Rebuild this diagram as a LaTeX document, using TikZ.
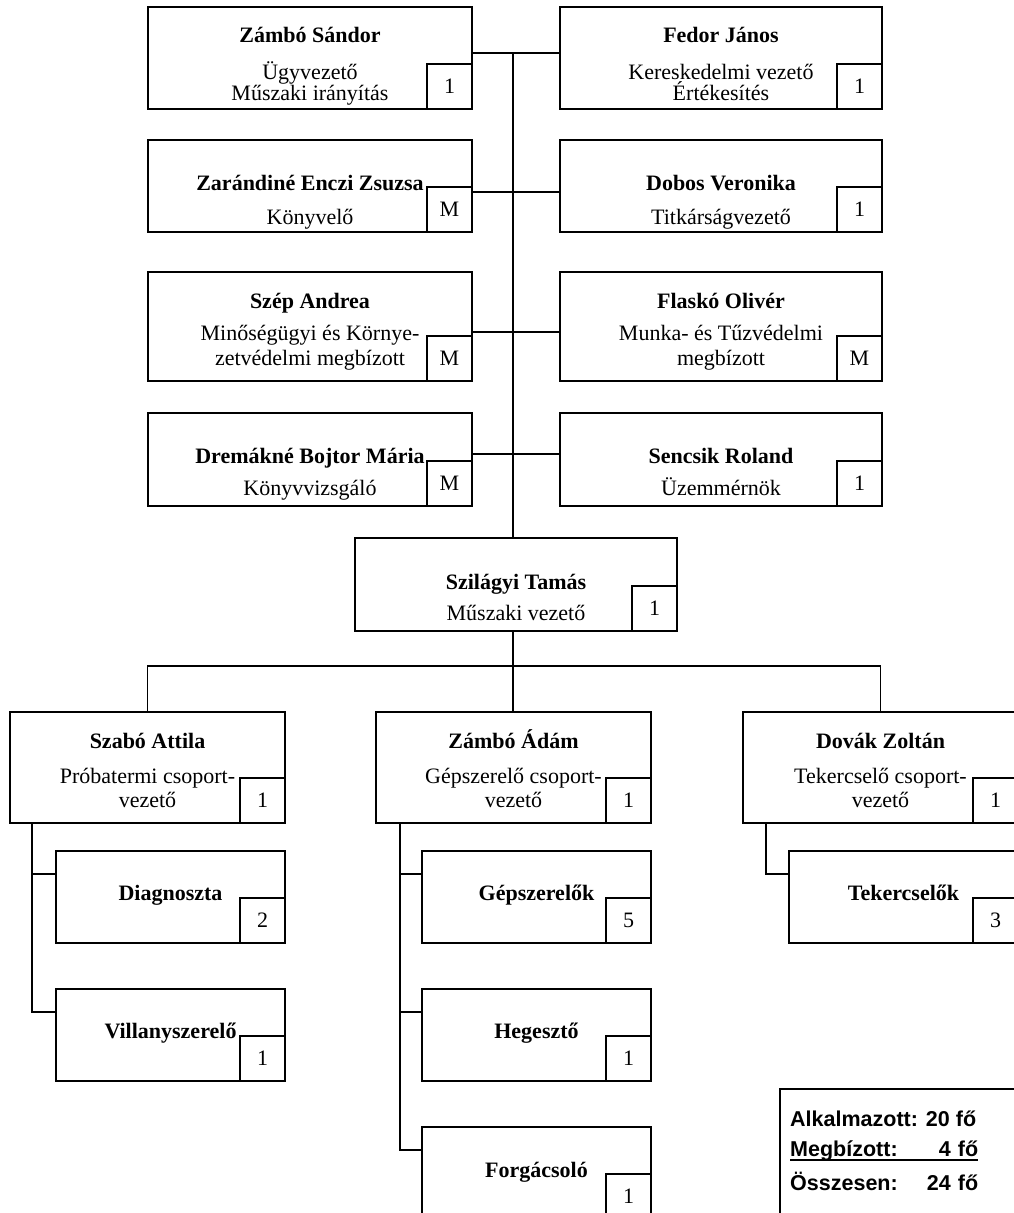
\documentclass[tikz,border=0pt]{standalone}
\usepackage{fontspec}
\setmainfont{Liberation Serif}
\newfontfamily\sumfont{Liberation Sans}
\usetikzlibrary{calc}
\newcommand\fs{\fontsize{22}{23}\selectfont}
\tikzset{
 box/.style={draw, line width=1.6pt, inner sep=0pt, outer sep=0pt},
 numbox/.style={draw, line width=1.6pt, inner sep=0pt, outer sep=0pt, minimum width=45pt, minimum height=45pt, anchor=south east, font=\fs},
 nm/.style={font=\fs\bfseries, inner sep=0pt, anchor=base},
 role/.style={font=\fs, inner sep=0pt, anchor=base, align=center},
 link/.style={line width=1.6pt},
 sumfnt/.style={font=\sumfont\bfseries\fontsize{21.5}{23}\selectfont, inner sep=0pt, anchor=base west},
 sumtxt/.style={sumfnt, text width=188pt, align=left},
}
\newcommand\obox[5]{\node[box, minimum width={#4-#2}, minimum height={#5-#3}] (#1) at ({(#2+#4)/2},{(#3+#5)/2}) {};}
\begin{document}
\begin{tikzpicture}[x=1pt,y=-1pt]
\useasboundingbox (0,0) rectangle (1014,1213);
\clip (0,0) rectangle (1014,1213);

% ---- row 1 (multi-line role nodes are placed by the baseline of their last line)
\obox{zs}{148}{7}{472}{109}
\node[nm] (zs-name) at (310,42) {Zámbó Sándor};
\node[role, font=\fontsize{22}{21}\selectfont] (zs-role) at (310,100) {Ügyvezető\\Műszaki irányítás};
\node[numbox] (zs-num) at (zs.south east) {1};

\obox{fj}{560}{7}{882}{109}
\node[nm] (fj-name) at (721,42) {Fedor János};
\node[role, font=\fontsize{22}{21}\selectfont] (fj-role) at (721,100) {Kereskedelmi vezető\\Értékesítés};
\node[numbox] (fj-num) at (fj.south east) {1};

% ---- row 2
\obox{zez}{148}{140}{472}{232}
\node[nm] (zez-name) at (310,190) {Zarándiné Enczi Zsuzsa};
\node[role] (zez-role) at (310,224) {Könyvelő};
\node[numbox] (zez-num) at (zez.south east) {M};

\obox{dv}{560}{140}{882}{232}
\node[nm] (dv-name) at (721,190) {Dobos Veronika};
\node[role] (dv-role) at (721,224) {Titkárságvezető};
\node[numbox] (dv-num) at (dv.south east) {1};

% ---- row 3
\obox{sa}{148}{272}{472}{381}
\node[nm] (sa-name) at (310,308) {Szép Andrea};
\node[role, font=\fontsize{22}{25}\selectfont] (sa-role) at (310,365) {Minőségügyi és Környe-\\zetvédelmi megbízott};
\node[numbox] (sa-num) at (sa.south east) {M};

\obox{fo}{560}{272}{882}{381}
\node[nm] (fo-name) at (721,308) {Flaskó Olivér};
\node[role, font=\fontsize{22}{25}\selectfont] (fo-role) at (721,365) {Munka- és Tűzvédelmi\\megbízott};
\node[numbox] (fo-num) at (fo.south east) {M};

% ---- row 4
\obox{dbm}{148}{413}{472}{506}
\node[nm] (dbm-name) at (310,463) {Dremákné Bojtor Mária};
\node[role] (dbm-role) at (310,495) {Könyvvizsgáló};
\node[numbox] (dbm-num) at (dbm.south east) {M};

\obox{sr}{560}{413}{882}{506}
\node[nm] (sr-name) at (721,463) {Sencsik Roland};
\node[role] (sr-role) at (721,495) {Üzemmérnök};
\node[numbox] (sr-num) at (sr.south east) {1};

% ---- Szilágyi
\obox{szt}{355}{538}{677}{631}
\node[nm] (szt-name) at (516,589) {Szilágyi Tamás};
\node[role] (szt-role) at (516,620) {Műszaki vezető};
\node[numbox] (szt-num) at (szt.south east) {1};

% ---- group heads
\obox{szab}{10}{712}{285}{823}
\node[nm] (szab-name) at (147.5,748) {Szabó Attila};
\node[role, font=\fontsize{22}{24}\selectfont] (szab-role) at (147.5,807) {Próbatermi csoport-\\vezető};
\node[numbox] (szab-num) at (szab.south east) {1};

\obox{zad}{376}{712}{651}{823}
\node[nm] (zad-name) at (513.5,748) {Zámbó Ádám};
\node[role, font=\fontsize{22}{24}\selectfont] (zad-role) at (513.5,807) {Gépszerelő csoport-\\vezető};
\node[numbox] (zad-num) at (zad.south east) {1};

\obox{dz}{743}{712}{1018}{823}
\node[nm] (dz-name) at (880.5,748) {Dovák Zoltán};
\node[role, font=\fontsize{22}{24}\selectfont] (dz-role) at (880.5,807) {Tekercselő csoport-\\vezető};
\node[numbox] (dz-num) at (dz.south east) {1};

% ---- children
\obox{diag}{56}{851}{285}{943}
\node[nm] (diag-name) at (170.5,900) {Diagnoszta};
\node[numbox] (diag-num) at (diag.south east) {2};

\obox{vill}{56}{989}{285}{1081}
\node[nm] (vill-name) at (170.5,1038) {Villanyszerelő};
\node[numbox] (vill-num) at (vill.south east) {1};

\obox{gsz}{422}{851}{651}{943}
\node[nm] (gsz-name) at (536.5,900) {Gépszerelők};
\node[numbox] (gsz-num) at (gsz.south east) {5};

\obox{heg}{422}{989}{651}{1081}
\node[nm] (heg-name) at (536.5,1038) {Hegesztő};
\node[numbox] (heg-num) at (heg.south east) {1};

\obox{forg}{422}{1127}{651}{1219}
\node[nm] (forg-name) at (536.5,1177) {Forgácsoló};
\node[numbox] (forg-num) at (forg.south east) {1};

\obox{tek}{789}{851}{1018}{943}
\node[nm] (tek-name) at (903.5,900) {Tekercselők};
\node[numbox] (tek-num) at (tek.south east) {3};

% ---- connectors (upper part)
\draw[link] ([yshift=5pt]zs.east) -- ([yshift=5pt]fj.west);
\draw[link] ([yshift=-6pt]zez.east) -- ([yshift=-6pt]dv.west);
\draw[link] ([yshift=-5.5pt]sa.east) -- ([yshift=-5.5pt]fo.west);
\draw[link] ([yshift=5.5pt]dbm.east) -- ([yshift=5.5pt]sr.west);
\coordinate (sp) at (513,53);
\draw[link] (sp) -- (sp |- szt.north);

% ---- connectors (lower part)
\coordinate (bar) at (513,666);
\draw[link] (sp |- szt.south) -- (bar);
\draw[link] (szab.north) |- (bar) -| (dz.north);
\draw[link] (bar) -- (bar |- zad.north);

\coordinate (sA) at ([xshift=22pt]szab.south west);
\coordinate (d1) at ($(diag.north west)+(0,23)$);
\coordinate (v1) at ($(vill.north west)+(0,23)$);
\draw[link] (sA) |- (v1);
\draw[link] (d1) -- (d1 -| sA);

\coordinate (zA) at ([xshift=24pt]zad.south west);
\coordinate (g1) at ($(gsz.north west)+(0,23)$);
\coordinate (h1) at ($(heg.north west)+(0,23)$);
\coordinate (f1) at ($(forg.north west)+(0,23)$);
\draw[link] (zA) |- (f1);
\draw[link] (g1) -- (g1 -| zA);
\draw[link] (h1) -- (h1 -| zA);

\coordinate (dA) at ([xshift=23pt]dz.south west);
\coordinate (t1) at ($(tek.north west)+(0,23)$);
\draw[link] (dA) |- (t1);

% ---- summary
\node[box, anchor=north west, minimum width=260pt, minimum height=150pt] (sum) at (780,1089) {};
\node[sumfnt] (s1) at (790,1126) {Alkalmazott: 20 fő};
\node[sumtxt] (s2) at (790,1156) {Megbízott:\hfill 4 fő};
\node[sumtxt] (s3) at (790,1190) {Összesen:\hfill 24 fő};
\draw[line width=1.8pt] ([yshift=-4pt]s2.base west) -- ([yshift=-4pt]s2.base east);
\end{tikzpicture}
\end{document}
